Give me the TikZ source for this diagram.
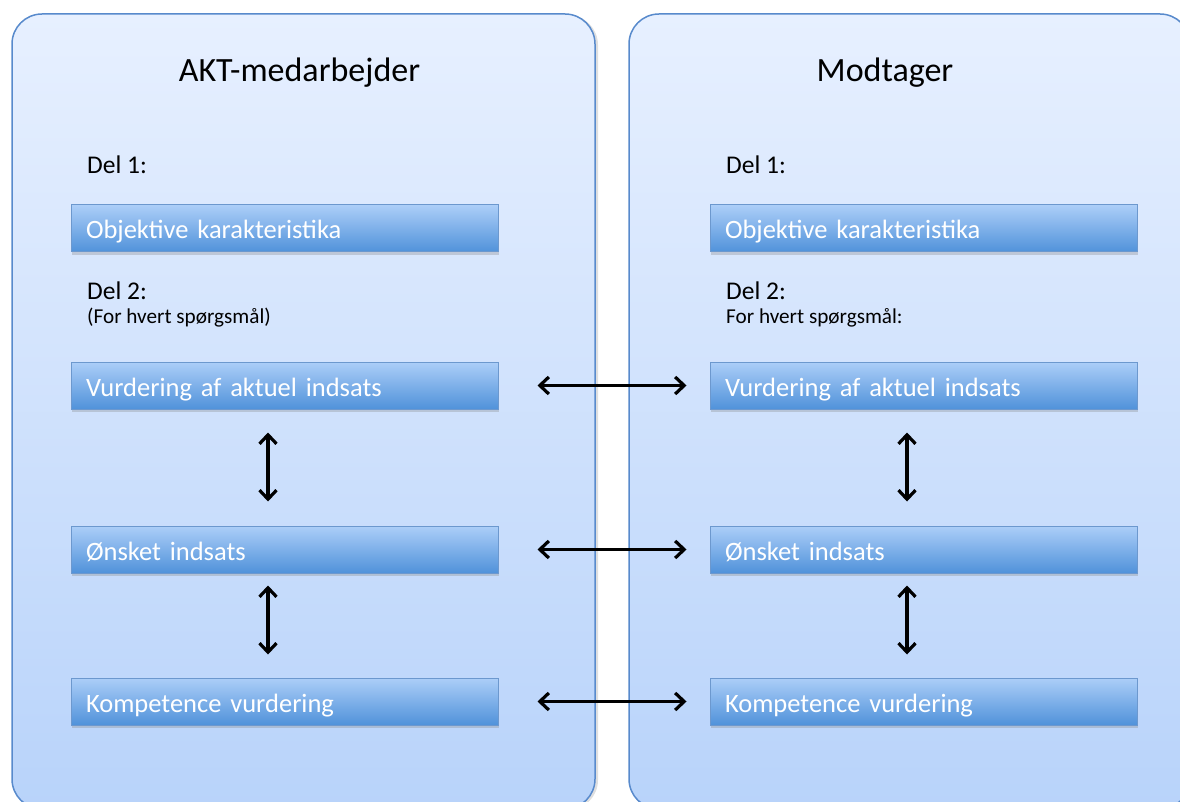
\documentclass[tikz,border=0pt]{standalone}
\usepackage{fontspec}
\setmainfont{Carlito}
\usetikzlibrary{arrows.meta,shadows}
\definecolor{panelTop}{RGB}{231,240,255}
\definecolor{panelBot}{RGB}{184,211,250}
\definecolor{panelLine}{RGB}{88,138,204}
\definecolor{boxTop}{RGB}{172,206,248}
\definecolor{boxBot}{RGB}{80,146,218}
\definecolor{boxLine}{RGB}{108,152,206}
\begin{document}
\begin{tikzpicture}[x=1pt,y=-1pt,
  panel/.style={rectangle, rounded corners=30pt, draw=panelLine, line width=1.5pt,
    top color=panelTop, bottom color=panelBot, minimum height=795pt, inner sep=0pt,
    drop shadow={opacity=0.25, shadow xshift=3pt, shadow yshift=-1pt}},
  item/.style={rectangle, draw=boxLine, line width=1pt, top color=boxTop, bottom color=boxBot,
    minimum height=47pt, text width=397pt, inner xsep=15pt, inner ysep=0pt, align=left,
    text height=24pt, text depth=3pt,
    text=white, font=\fontsize{26.5}{30}\selectfont,
    drop shadow={opacity=0.3, shadow xshift=1pt, shadow yshift=-3pt}},
  heading/.style={anchor=base, inner sep=0pt, font=\fontsize{34}{40}\selectfont},
  delhead/.style={anchor=base west, inner sep=0pt, font=\fontsize{25.5}{30}\selectfont},
  note/.style={anchor=base west, inner sep=0pt, font=\fontsize{21.2}{25}\selectfont},
  link/.style={{Straight Barb[length=9pt,width=17pt]}-{Straight Barb[length=9pt,width=17pt]}, line width=3.2pt, black}
]
\useasboundingbox (0,0) rectangle (1180,802);
\begin{scope}
\clip (0,0) rectangle (1180,802);
\node[panel, minimum width=583pt] (pleft) at (303.5,411.5) {};
\node[panel, minimum width=561pt] (pright) at (909.5,411.5) {};
\end{scope}

\node[heading] (hleft) at (299.5,82) {AKT-medarbejder};
\node[heading] (hright) at (885,82) {Modtager};

\node[delhead] (d1l) at (87,174) {Del 1:};
\node[delhead] (d1r) at (726,174) {Del 1:};
\node[delhead] (d2l) at (87,299) {Del 2:};
\node[delhead] (d2r) at (726,299) {Del 2:};
\node[note] (nl) at (87,323) {(For hvert spørgsmål)};
\node[note] (nr) at (726,323) {For hvert spørgsmål:};

\node[item] (ol) at (284.5,228.5) {Objektive karakteristika};
\node[item] (or) at (923.5,228.5) {Objektive karakteristika};
\node[item] (vl) at (284.5,385.5) {Vurdering af aktuel indsats};
\node[item] (vr) at (923.5,385.5) {Vurdering af aktuel indsats};
\node[item] (sl) at (284.5,549.5) {Ønsket indsats};
\node[item] (sr) at (923.5,549.5) {Ønsket indsats};
\node[item] (kl) at (284.5,701.5) {Kompetence vurdering};
\node[item] (kr) at (923.5,701.5) {Kompetence vurdering};

\draw[link, shorten <=39pt, shorten >=23pt] (vl.east) -- (vr.west);
\draw[link, shorten <=39pt, shorten >=23pt] (sl.east) -- (sr.west);
\draw[link, shorten <=39pt, shorten >=23pt] (kl.east) -- (kr.west);

\draw[link, shorten <=23pt, shorten >=24pt] (vl.south -| 268,0) -- (sl.north -| 268,0);
\draw[link, shorten <=12pt, shorten >=23pt] (sl.south -| 268,0) -- (kl.north -| 268,0);
\draw[link, shorten <=23pt, shorten >=24pt] (vr.south -| 907,0) -- (sr.north -| 907,0);
\draw[link, shorten <=12pt, shorten >=23pt] (sr.south -| 907,0) -- (kr.north -| 907,0);
\end{tikzpicture}
\end{document}
